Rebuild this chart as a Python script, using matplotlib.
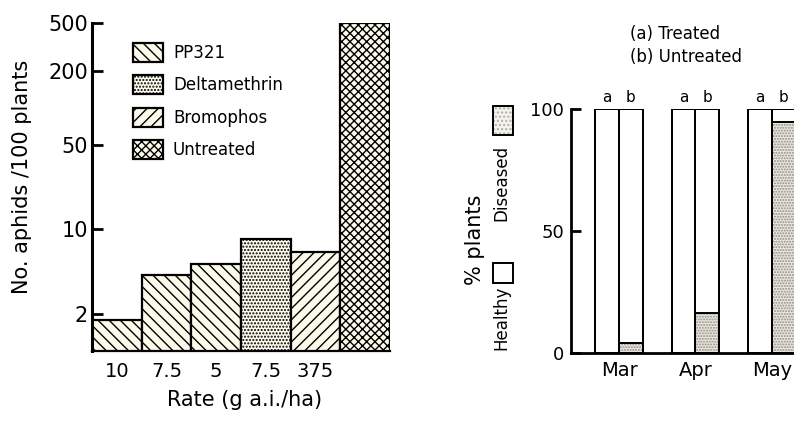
import numpy as np
import matplotlib
matplotlib.use("Agg")
import matplotlib.pyplot as plt
from matplotlib.patches import Rectangle

# left panel: aphids per 100 plants by insecticide / rate
rates = ["10", "7.5", "5", "7.5", "375", ""]
aphids = [1.8, 4.2, 5.2, 8.4, 6.5, 500]
treatment = ["PP321", "PP321", "PP321", "Deltamethrin", "Bromophos", "Untreated"]
left_yticks = [2, 10, 50, 200, 500]

# right panel: % plants diseased, (a) treated vs (b) untreated
months = ["Mar", "Apr", "May"]
diseased_treated = [0, 0, 0]
diseased_untreated = [4, 16.5, 94.5]
right_yticks = [0, 50, 100]

hatches = {"PP321": "\\\\\\", "Deltamethrin": ".....", "Bromophos": "///", "Untreated": "xxxx"}
cream = "#fcfaea"
stipple_bg = "#ebe9e0"
stipple_dot = "#8e8c85"

plt.rcParams["font.family"] = ["DejaVu Sans"]
plt.rcParams["hatch.linewidth"] = 1.0

W, H = 794, 421
fig = plt.figure(figsize=(W / 100, H / 100), dpi=100)
fig.patch.set_facecolor("white")


def px_axes(x0, y0, x1, y1):
    # pixel box (top-left origin) -> figure fraction axes
    return fig.add_axes([x0 / W, 1 - y1 / H, (x1 - x0) / W, (y1 - y0) / H])


# ---------------- left chart ----------------
ax1 = px_axes(92, 23, 390, 351)
x = np.arange(len(aphids))
seen = {}
for xi, val, tr in zip(x, aphids, treatment):
    b = ax1.bar(xi, val, width=1.0, bottom=0, facecolor=cream, edgecolor="black",
                linewidth=1.6, hatch=hatches[tr], label=tr if tr not in seen else None)
    seen[tr] = b
ax1.set_yscale("log")
ax1.set_ylim(1, 500)
ax1.set_xlim(-0.5, len(aphids) - 0.5)
ax1.set_yticks(left_yticks)
ax1.set_yticklabels([str(t) for t in left_yticks])
ax1.yaxis.set_minor_locator(matplotlib.ticker.NullLocator())
ax1.set_xticks(x[:5])
ax1.set_xticklabels(rates[:5])
ax1.tick_params(axis="y", direction="in", length=8, width=2, labelsize=15, pad=3)
ax1.tick_params(axis="x", length=0, labelsize=14, pad=8)
for s in ["top", "right"]:
    ax1.spines[s].set_visible(False)
ax1.spines["left"].set_linewidth(2.2)
ax1.spines["bottom"].set_linewidth(1.6)

handles = [seen[k] for k in ["PP321", "Deltamethrin", "Bromophos", "Untreated"]]
fig.legend(handles, ["PP321", "Deltamethrin", "Bromophos", "Untreated"],
           loc="upper left", bbox_to_anchor=(133 / W, 1 - 43 / H), frameon=False,
           fontsize=12, handlelength=1.8, handleheight=1.38, labelspacing=0.8,
           handletextpad=0.6, borderpad=0, borderaxespad=0)

fig.text(22 / W, 1 - 177 / H, "No. aphids /100 plants", rotation=90,
         ha="center", va="center", fontsize=15)
fig.text(245 / W, 1 - 400 / H, "Rate (g a.i./ha)", ha="center", va="center", fontsize=15)

# ---------------- right chart ----------------
ax2 = px_axes(571, 109, 571 + 24.5 * 10.0, 353)
centers = np.arange(len(months)) * 3.12
bw = 0.97
for c, dt, du in zip(centers, diseased_treated, diseased_untreated):
    for xb, d in [(c - bw / 2, dt), (c + bw / 2, du)]:
        if d > 0:
            ax2.bar(xb, d, width=bw, facecolor=stipple_bg, edgecolor=stipple_dot,
                    hatch="......", linewidth=0)
            ax2.bar(xb, d, width=bw, fill=False, edgecolor="black", linewidth=1.4)
        ax2.bar(xb, 100 - d, width=bw, bottom=d, facecolor="white",
                edgecolor="black", linewidth=1.4)
        ax2.bar(xb, 100, width=bw, fill=False, edgecolor="black", linewidth=1.4)
    for xb, lab in [(c - bw / 2, "a"), (c + bw / 2, "b")]:
        ax2.annotate(lab, (xb, 100), xytext=(0, 3), textcoords="offset points",
                     ha="center", va="bottom", fontsize=11, annotation_clip=False)
ax2.set_xlim(-1.96, 8.04)
ax2.set_ylim(0, 100)
ax2.set_yticks(right_yticks)
ax2.set_xticks(centers)
ax2.set_xticklabels(months)
ax2.tick_params(axis="y", direction="in", length=7, width=2, labelsize=13, pad=5)
ax2.tick_params(axis="x", length=0, labelsize=14, pad=6)
for s in ["top", "right"]:
    ax2.spines[s].set_visible(False)
ax2.spines["left"].set_linewidth(2.0)
ax2.spines["bottom"].set_linewidth(2.0)

fig.text(630 / W, 1 - 34 / H, "(a) Treated", ha="left", va="center", fontsize=12)
fig.text(630 / W, 1 - 57 / H, "(b) Untreated", ha="left", va="center", fontsize=12)

# side legend (healthy / diseased) with rotated labels
ov = fig.add_axes([0, 0, 1, 1], zorder=-1)
ov.set_xlim(0, W)
ov.set_ylim(H, 0)
ov.axis("off")
ov.add_patch(Rectangle((493, 106), 20, 29, facecolor="#f3f2ec", edgecolor="#b0aea6",
                       hatch="....", linewidth=0))
ov.add_patch(Rectangle((493, 106), 20, 29, fill=False, edgecolor="black", linewidth=1.4))
ov.add_patch(Rectangle((493, 263), 20, 20, facecolor="white", edgecolor="black", linewidth=1.4))
ov.text(475, 240, "% plants", rotation=90, ha="center", va="center", fontsize=15)
ov.text(501, 183, "Diseased", rotation=90, ha="center", va="center", fontsize=12)
ov.text(501, 318, "Healthy", rotation=90, ha="center", va="center", fontsize=12)

fig.savefig("out.png", dpi=100)
